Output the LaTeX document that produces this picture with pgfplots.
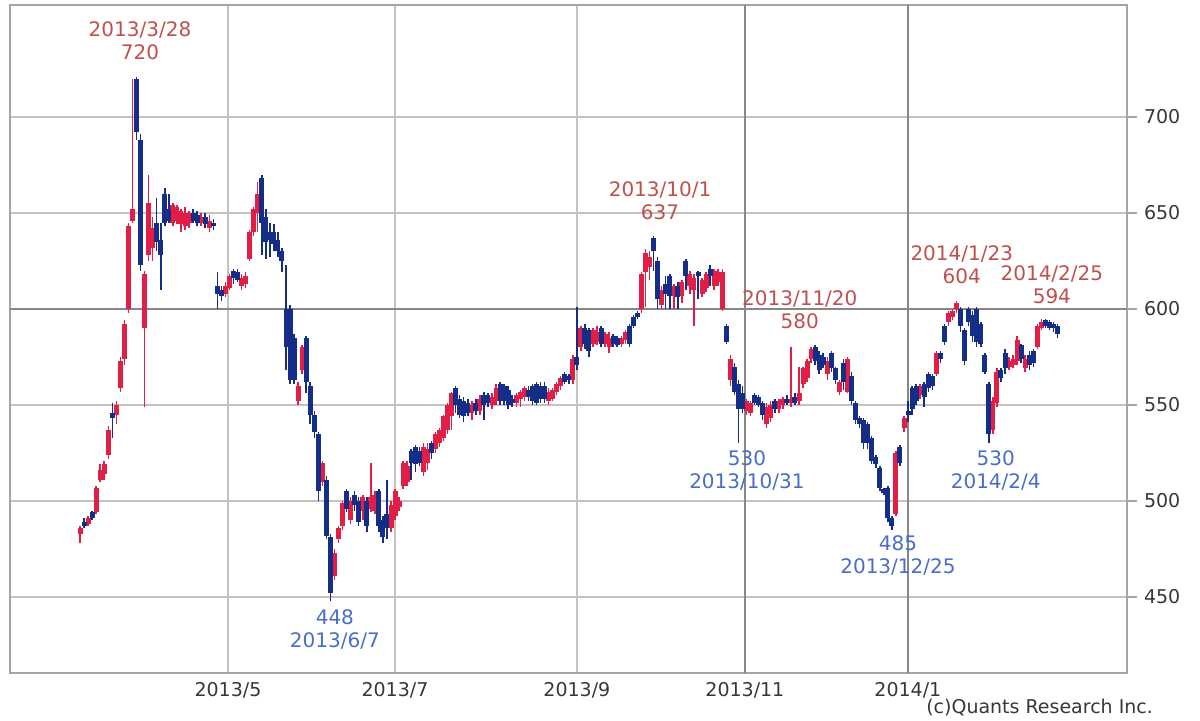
\documentclass[border=0pt]{standalone}
\usepackage{pgfplots}
\usepackage{pgfplotstable}
\pgfplotsset{compat=1.18}
\usepackage{fontspec}
\setmainfont{DejaVu Sans}
\definecolor{cred}{RGB}{225,30,70}
\definecolor{cblue}{RGB}{20,45,135}
\definecolor{ared}{RGB}{192,80,77}
\definecolor{ablue}{RGB}{72,110,200}
\definecolor{tlab}{RGB}{55,55,55}
\definecolor{gridc}{RGB}{195,195,195}
\definecolor{gridd}{RGB}{135,135,135}
\definecolor{framec}{RGB}{165,165,165}

\pgfplotstableread{
i o h l c
0 483 487 478 486
1 489 491 486 487
2 488 492 487 491
3 494 495 490 491
4 494 508 493 507
5 511 519 510 516
6 514 521 511 519
7 524 539 522 537
8 546 551 533 543
9 545 552 540 550
10 559 575 557 573
11 574 594 571 592
12 600 645 598 643
13 646 720 645 652
14 720 721 688 692
15 688 691 620 623
16 590 620 549 618
17 628 670 625 655
18 632 648 625 642
19 645 658 630 635
20 636 645 610 628
21 660 663 643 645
22 652 660 645 646
23 645 655 643 654
24 646 654 644 653
25 644 652 640 651
26 643 653 641 650
27 645 651 642 650
28 650 652 645 646
29 649 651 643 645
30 645 650 643 648
31 648 650 642 644
32 642 649 640 646
33 645 647 641 643
34 612 619 600 608
35 610 612 604 607
36 608 614 606 612
37 611 618 610 617
38 620 621 613 616
39 619 621 614 615
40 612 618 610 616
41 613 619 611 617
42 626 641 625 640
43 640 653 638 652
44 650 666 640 660
45 668 670 628 645
46 648 652 626 635
47 640 645 627 636
48 640 644 630 634
49 636 640 627 630
50 630 632 619 625
51 600 623 568 580
52 600 602 561 563
53 585 587 561 563
54 552 562 550 560
55 568 581 566 580
56 585 586 556 562
57 560 562 540 545
58 545 547 533 536
59 535 536 500 505
60 510 521 508 520
61 511 513 480 482
62 481 483 448 452
63 461 475 459 473
64 480 487 478 486
65 487 500 485 499
66 505 506 494 496
67 490 502 488 500
68 503 505 495 498
69 500 502 487 489
70 495 503 490 502
71 500 502 484 487
72 496 520 494 502
73 495 505 493 503
74 505 506 484 487
75 490 492 478 481
76 493 511 480 486
77 486 500 484 498
78 492 506 490 505
79 497 502 495 500
80 508 521 506 520
81 510 521 508 518
82 526 527 511 520
83 528 529 515 519
84 526 528 518 520
85 515 530 513 528
86 520 530 516 527
87 530 531 522 525
88 527 536 525 535
89 530 538 528 537
90 533 545 531 544
91 537 551 535 550
92 544 557 537 556
93 559 560 546 550
94 553 555 543 545
95 552 554 541 544
96 551 553 544 546
97 546 552 542 550
98 551 553 545 547
99 547 555 545 553
100 555 557 542 550
101 555 556 549 551
102 550 556 548 554
103 552 561 550 559
104 561 562 550 552
105 560 561 550 552
106 558 560 548 550
107 553 555 549 551
108 551 556 549 555
109 553 558 549 557
110 554 560 552 559
111 558 560 552 554
112 560 561 550 552
113 561 562 550 551
114 560 562 551 553
115 560 562 551 553
116 552 559 550 557
117 553 559 552 558
118 557 562 555 561
119 560 565 558 564
120 566 567 561 562
121 565 566 561 563
122 563 576 561 574
123 575 601 568 571
124 580 591 578 590
125 590 592 579 582
126 589 590 575 578
127 582 590 580 589
128 583 591 581 588
129 590 591 580 582
130 582 588 580 587
131 580 588 577 585
132 586 587 580 582
133 585 586 580 581
134 582 586 580 585
135 584 589 582 588
136 591 592 580 582
137 596 597 590 591
138 598 599 595 596
139 600 619 598 618
140 619 631 601 629
141 622 630 615 627
142 637 638 620 630
143 625 627 600 605
144 602 612 600 610
145 613 617 600 608
146 617 618 600 607
147 607 613 600 612
148 612 614 600 606
149 607 615 603 614
150 625 626 610 617
151 612 620 608 618
152 610 618 591 616
153 619 620 605 617
154 608 616 606 615
155 611 619 609 618
156 621 623 612 617
157 612 621 610 620
158 614 621 612 619
159 600 621 599 619
160 591 592 582 583
161 563 576 560 574
162 570 572 555 557
163 561 563 530 548
164 556 560 546 548
165 547 553 545 552
166 546 552 544 551
167 555 556 550 551
168 554 555 549 550
169 551 552 542 545
170 540 551 538 549
171 543 552 541 550
172 552 553 546 548
173 548 553 546 552
174 550 554 548 553
175 553 555 550 551
176 551 580 549 553
177 554 556 550 551
178 552 570 550 556
179 561 570 559 569
180 564 574 562 573
181 574 580 572 579
182 580 581 571 573
183 576 578 566 568
184 575 577 569 571
185 566 575 563 573
186 577 578 567 569
187 569 570 561 563
188 557 563 555 562
189 572 574 558 562
190 557 575 556 574
191 565 567 550 552
192 551 552 540 542
193 543 544 538 540
194 542 543 527 530
195 540 541 527 530
196 533 534 519 521
197 523 524 517 519
198 517 518 505 507
199 506 507 503 504
200 507 508 489 491
201 491 492 485 487
202 493 526 492 525
203 528 529 518 520
204 538 544 536 543
205 547 552 541 545
206 559 560 545 548
207 560 561 550 552
208 555 561 553 560
209 561 562 549 554
210 566 567 557 559
211 565 566 558 560
212 566 578 565 577
213 577 578 572 574
214 591 592 581 583
215 593 599 591 598
216 596 600 594 599
217 600 604 598 603
218 600 601 588 591
219 589 590 571 573
220 600 601 591 593
221 597 599 583 586
222 600 601 580 583
223 592 593 580 582
224 576 577 566 567
225 561 562 530 535
226 537 554 535 552
227 551 569 549 567
228 568 569 562 564
229 577 579 566 569
230 570 575 568 573
231 571 576 569 574
232 573 586 571 584
233 581 582 572 574
234 569 576 567 574
235 576 578 568 571
236 578 579 570 572
237 580 592 579 591
238 590 595 589 593
239 594 595 590 591
240 593 594 589 590
241 592 593 588 590
242 591 592 585 587
}\ohlc

\begin{document}
\begin{tikzpicture}[x=1pt,y=1pt]
\useasboundingbox (0,0) rectangle (600,360);
\begin{axis}[
  at={(5pt,23.5pt)}, anchor=south west,
  scale only axis, width=558.5pt, height=334pt,
  xmin=-17.33, xmax=259.2, ymin=410.4, ymax=758.3,
  axis line style={draw=framec, line width=1pt},
  grid=major, major grid style={draw=gridc, line width=0.75pt},
  xtick={36.63,77.97,123.0}, xticklabels={2013/5,2013/7,2013/9},
  extra x ticks={164.6,204.95}, extra x tick labels={2013/11,2014/1},
  extra x tick style={major grid style={draw=gridd, line width=0.9pt}},
  xtick style={draw=none},
  xticklabel style={yshift=4pt},
  ytick={450,500,550,650,700},
  extra y ticks={600},
  extra y tick style={major grid style={draw=gridd, line width=0.9pt}},
  ytick pos=right, yticklabel pos=right,
  tick align=outside, major tick length=5pt,
  ytick style={draw=framec, line width=0.75pt},
  /pgf/number format/assume math mode=true,
  /pgf/number format/1000 sep={},
  ticklabel style={font=\fontsize{9.5}{11}\selectfont, text=tlab},
  clip=true,
]
% wicks, up
\addplot[draw=none, mark=none,
  restrict expr to domain={\thisrow{c}-\thisrow{o}}{0:1000},
  error bars/.cd, y dir=plus, y explicit, error mark=none,
  error bar style={draw=cred, line width=0.75pt}]
  table[x=i, y=l, y error plus expr={\thisrow{h}-\thisrow{l}}] {\ohlc};
% wicks, down
\addplot[draw=none, mark=none,
  restrict expr to domain={\thisrow{c}-\thisrow{o}}{-1000:-0.01},
  error bars/.cd, y dir=plus, y explicit, error mark=none,
  error bar style={draw=cblue, line width=0.75pt}]
  table[x=i, y=l, y error plus expr={\thisrow{h}-\thisrow{l}}] {\ohlc};
% bodies, up
\addplot[draw=none, mark=none,
  restrict expr to domain={\thisrow{c}-\thisrow{o}}{0:1000},
  error bars/.cd, y dir=plus, y explicit, error mark=none,
  error bar style={draw=cred, line width=2.5pt}]
  table[x=i, y expr={min(\thisrow{o},\thisrow{c})}, y error plus expr={max(abs(\thisrow{c}-\thisrow{o}),0.8)}] {\ohlc};
% bodies, down
\addplot[draw=none, mark=none,
  restrict expr to domain={\thisrow{c}-\thisrow{o}}{-1000:-0.01},
  error bars/.cd, y dir=plus, y explicit, error mark=none,
  error bar style={draw=cblue, line width=2.5pt}]
  table[x=i, y expr={min(\thisrow{o},\thisrow{c})}, y error plus expr={max(abs(\thisrow{c}-\thisrow{o}),0.8)}] {\ohlc};

\begin{scope}[every node/.style={font=\fontsize{10}{11.5}\selectfont, align=center, inner sep=0pt}]
\node[text=ared] at (axis cs:14.85,739.8) {2013/3/28\\720};
\node[text=ared] at (axis cs:143.6,656.5) {2013/10/1\\637};
\node[text=ared] at (axis cs:178.2,599.5) {2013/11/20\\580};
\node[text=ared] at (axis cs:218.3,623.2) {2014/1/23\\604};
\node[text=ared] at (axis cs:240.6,612.5) {2014/2/25\\594};
\node[text=ablue] at (axis cs:63.1,432.8) {448\\2013/6/7};
\node[text=ablue] at (axis cs:165.1,515.9) {530\\2013/10/31};
\node[text=ablue] at (axis cs:202.5,471.4) {485\\2013/12/25};
\node[text=ablue] at (axis cs:226.7,516.0) {530\\2014/2/4};
\end{scope}
\end{axis}
\node[anchor=east, font=\fontsize{9.5}{11}\selectfont, text=tlab] at (580,6) {(c)Quants Research Inc.};
\end{tikzpicture}
\end{document}
